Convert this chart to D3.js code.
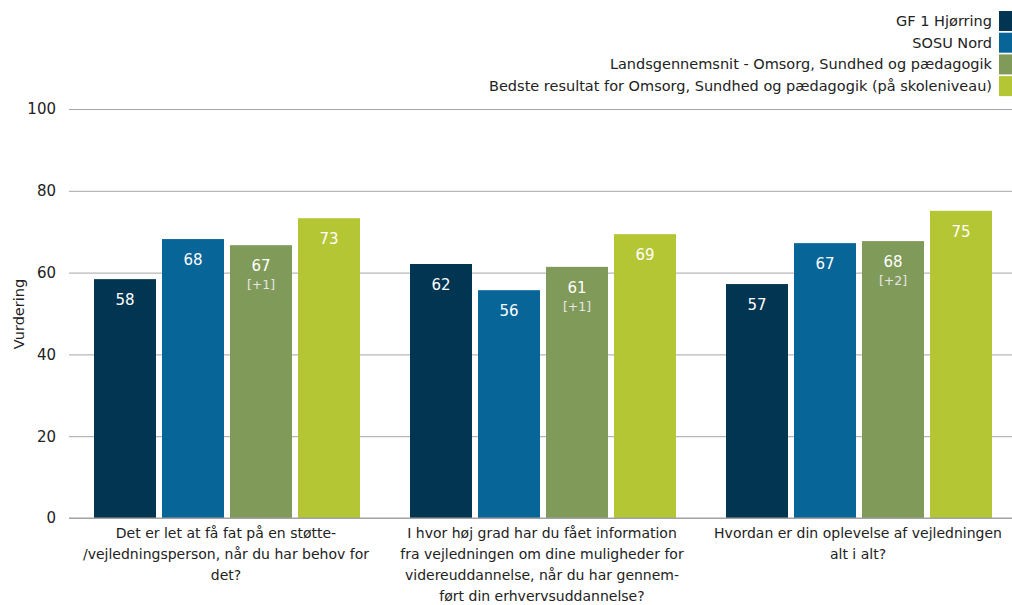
<!DOCTYPE html>
<html>
<head>
<meta charset="utf-8">
<script src="https://cdn.jsdelivr.net/npm/d3@7"></script>
<style>
  body { margin: 0; background: #fff; }
  svg { display: block; font-family: "DejaVu Sans", Verdana, sans-serif; }
</style>
</head>
<body>
<svg id="chart" width="1012" height="605"></svg>
<script>
const categories = [
  ["Det er let at få fat på en støtte-", "/vejledningsperson, når du har behov for", "det?"],
  ["I hvor høj grad har du fået information", "fra vejledningen om dine muligheder for", "videreuddannelse, når du har gennem-", "ført din erhvervsuddannelse?"],
  ["Hvordan er din oplevelse af vejledningen", "alt i alt?"]
];
const seriesNames = [
  "GF 1 Hjørring",
  "SOSU Nord",
  "Landsgennemsnit - Omsorg, Sundhed og pædagogik",
  "Bedste resultat for Omsorg, Sundhed og pædagogik (på skoleniveau)"
];
const seriesColors = ["#013552", "#086598", "#7f9a59", "#b4c634"];
const gf1 = [58.4, 62.1, 57.2];
const sosu = [68.2, 55.7, 67.2];
const lands = [66.7, 61.4, 67.7];
const bedste = [73.3, 69.4, 75.1];
const landsDiff = ["[+1]", "[+1]", "[+2]"];
const yTicks = [0, 20, 40, 60, 80, 100];
const yTitle = "Vurdering";

const series = [gf1, sosu, lands, bedste];

const svg = d3.select("#chart");
const W = 1012;
const plotTop = 109, plotBottom = 518;
const x0 = d3.scaleBand().domain(d3.range(categories.length)).range([69, 1017]).padding(0);
const x1 = d3.scaleBand().domain(d3.range(series.length)).range([25, 291]).paddingInner(6 / 68).paddingOuter(0);
const y = d3.scaleLinear().domain([0, 100]).range([plotBottom, plotTop]);

// gridlines
const yAxis = d3.axisLeft(y).tickValues(yTicks).tickSize(-(W - 69)).tickPadding(13);
const gAxis = svg.append("g").attr("transform", "translate(69,0)").call(yAxis);
gAxis.select(".domain").remove();
gAxis.selectAll(".tick line").attr("stroke", "#a6a6a6").attr("stroke-width", 1);
gAxis.selectAll(".tick text").attr("fill", "#222").style("font-size", "15px").attr("font-family", "DejaVu Sans, Verdana, sans-serif");

// y title
svg.append("text")
  .attr("transform", `translate(24,314) rotate(-90)`)
  .attr("text-anchor", "middle")
  .attr("fill", "#222")
  .style("font-size", "14.5px")
  .text(yTitle);

// bars
const groups = svg.append("g").selectAll("g")
  .data(categories.map((c, i) => i))
  .join("g")
  .attr("transform", i => `translate(${x0(i)},0)`);

groups.each(function (ci) {
  const g = d3.select(this);
  series.forEach((s, si) => {
    const v = s[ci];
    const bx = x1(si);
    g.append("rect")
      .attr("x", bx)
      .attr("y", y(v))
      .attr("width", x1.bandwidth())
      .attr("height", y(0) - y(v))
      .attr("fill", seriesColors[si]);
    g.append("text")
      .attr("x", bx + x1.bandwidth() / 2)
      .attr("y", y(v) + 26)
      .attr("text-anchor", "middle")
      .attr("fill", "#fff")
      .style("font-size", "15px")
      .text(Math.round(v));
    if (si === 2) {
      g.append("text")
        .attr("x", bx + x1.bandwidth() / 2)
        .attr("y", y(v) + 44)
        .attr("text-anchor", "middle")
        .attr("fill", "#e6e6e6")
        .style("font-size", "12.5px")
        .text(landsDiff[ci]);
    }
  });
});

// baseline
svg.append("line")
  .attr("x1", 69).attr("x2", W)
  .attr("y1", y(0)).attr("y2", y(0))
  .attr("stroke", "#a0a0a0").attr("stroke-width", 1.2);

// category labels
categories.forEach((lines, i) => {
  const t = svg.append("text")
    .attr("text-anchor", "middle")
    .attr("fill", "#222")
    .style("font-size", "14px");
  lines.forEach((ln, li) => {
    t.append("tspan")
      .attr("x", x0(i) + x0.bandwidth() / 2 - 1)
      .attr("y", 538 + li * 21)
      .text(ln);
  });
});

// legend
seriesNames.forEach((name, i) => {
  const cy = 21 + i * 21.7;
  svg.append("rect")
    .attr("x", 999).attr("y", cy - 10)
    .attr("width", 14).attr("height", 20)
    .attr("fill", seriesColors[i]);
  svg.append("text")
    .attr("x", 992).attr("y", cy + 5)
    .attr("text-anchor", "end")
    .attr("fill", "#222")
    .style("font-size", "14.5px")
    .text(name);
});
</script>
</body>
</html>
